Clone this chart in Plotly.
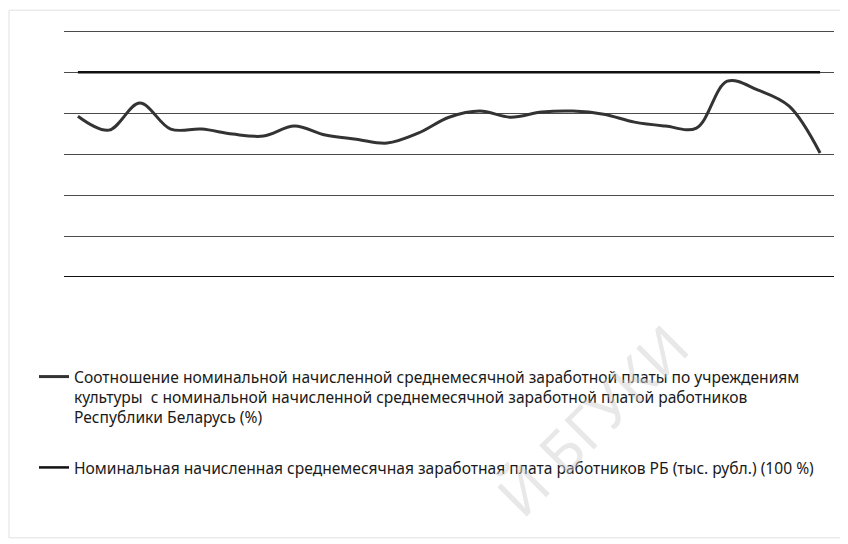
import plotly.graph_objects as go

# x positions (periods, unlabeled in the original)
periods = list(range(25))

# Ratio of culture-sector wage to national average wage (%)
ratio_values = [78.5, 71.7, 84.9, 72.2, 72.2, 69.8, 68.8, 73.7, 69.3, 67.3,
                65.4, 70.2, 78.0, 81.0, 78.0, 80.5, 81.0, 79.5, 75.6, 73.7,
                72.7, 95.6, 91.2, 83.4, 60.5]

# National average wage taken as 100 %
base_values = [100] * 25

grid_ticks = [0, 20, 40, 60, 80, 100, 120]

name_ratio = ("Соотношение номинальной начисленной среднемесячной заработной платы по учреждениям<br>"
              "культуры  с номинальной начисленной среднемесячной заработной платой работников<br>"
              "Республики Беларусь (%)")
name_base = "Номинальная начисленная среднемесячная заработная плата работников РБ (тыс. рубл.) (100 %)"

fig = go.Figure()
fig.add_trace(go.Scatter(
    x=periods, y=ratio_values, mode="lines", name=name_ratio,
    line=dict(color="#333333", width=3, shape="spline", smoothing=1.0),
    legendgroup="a",
))
fig.add_trace(go.Scatter(
    x=periods, y=base_values, mode="lines", name=name_base,
    line=dict(color="#111111", width=2.5),
    legendgroup="b",
))

# page body adds an 8px offset; work in figure pixels = window pixels - 8
OFF = 8
W, H = 840, 536
Y_TOP = 124.0
bottom_px = 277 - OFF              # y of value 0
px_per_unit = 41 / 20.0
top_px = bottom_px - Y_TOP * px_per_unit
L = 64 - OFF
R = W - (834 - OFF)
T = top_px
B = H - bottom_px
pw, ph = W - L - R, H - T - B

def px_x(p):
    return (p - OFF - L) / pw

def px_y(p):
    return (H - B - (p - OFF)) / ph

fig.update_layout(
    width=W, height=H,
    margin=dict(l=L, r=R, t=T, b=B, autoexpand=False),
    paper_bgcolor="white", plot_bgcolor="white",
    font=dict(family="Noto Sans, Open Sans, sans-serif", size=15, color="#1a1a1a"),
    showlegend=True,
    legend=dict(
        x=px_x(34), y=px_y(360), xanchor="left", yanchor="top",
        bgcolor="rgba(0,0,0,0)", borderwidth=0,
        traceorder="grouped", tracegroupgap=27, valign="top",
        font=dict(size=15.6), itemwidth=30,
    ),
    xaxis=dict(range=[-0.45, 24.45], showticklabels=False, showgrid=False,
               zeroline=False, showline=False, ticks=""),
    yaxis=dict(range=[0, Y_TOP], tickvals=grid_ticks, showticklabels=False,
               showgrid=True, gridcolor="#4a4a4a", gridwidth=1.3,
               zeroline=False, showline=False, ticks=""),
    shapes=[
        dict(type="rect", xref="paper", yref="paper",
             x0=px_x(9), x1=px_x(842), y0=px_y(538), y1=px_y(10),
             line=dict(color="#e0e0e0", width=1), fillcolor="rgba(0,0,0,0)",
             layer="below"),
        dict(type="line", xref="paper", yref="y", x0=0, x1=1, y0=0, y1=0,
             line=dict(color="#111111", width=1.8)),
    ],
    annotations=[
        dict(text="Й БГУКИ", xref="paper", yref="paper",
             x=px_x(592), y=px_y(420), xanchor="center", yanchor="middle",
             showarrow=False, textangle=-45,
             font=dict(size=58, color="rgba(205,205,205,0.45)",
                       family="Noto Sans, sans-serif")),
    ],
)

fig.write_html("out.html")
